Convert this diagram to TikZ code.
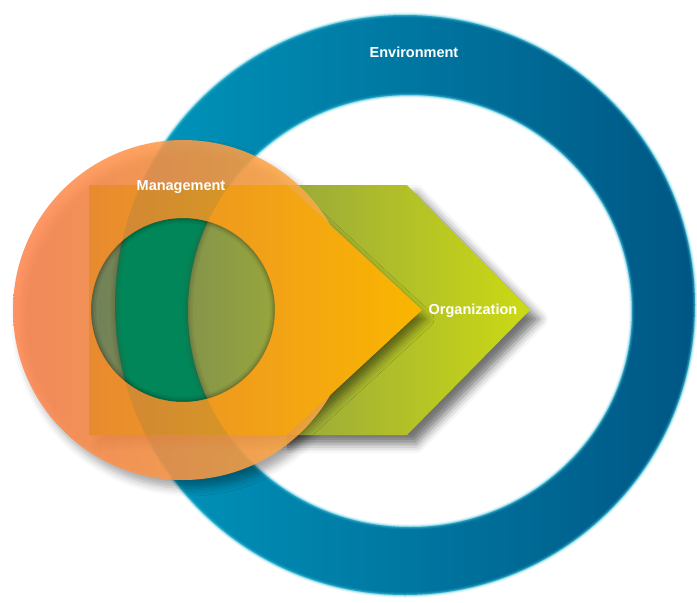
\documentclass[tikz,border=0pt]{standalone}
\usepackage{fontspec}
\setmainfont{Liberation Sans}
\usetikzlibrary{shadows.blur}
\definecolor{ringL}{RGB}{0,152,190}
\definecolor{ringR}{RGB}{0,86,132}
\definecolor{ringEdge}{RGB}{70,195,220}
\definecolor{grnL}{RGB}{112,128,90}
\definecolor{grnM}{RGB}{150,174,70}
\definecolor{grnR}{RGB}{204,218,20}
\definecolor{deepgrn}{RGB}{0,134,88}
\definecolor{mgL}{RGB}{255,132,78}
\definecolor{mgR}{RGB}{255,176,64}
\definecolor{chL}{RGB}{232,138,48}
\definecolor{chR}{RGB}{250,182,0}
\tikzset{
  lbl/.style={text=white, font=\bfseries\fontsize{14.5}{17}\selectfont, inner sep=0pt},
}
\begin{document}
\begin{tikzpicture}[x=1pt,y=-1pt]
\useasboundingbox (0,0) rectangle (697,603);
\coordinate (ringc) at (405,305);
\coordinate (holec) at (410,311);
\coordinate (mc) at (183,310);
% Environment ring
\shade[even odd rule, left color=ringL, right color=ringR]
  (ringc) circle[radius=290] (holec) ellipse[x radius=222, y radius=216];
\foreach \w/\o in {5/0.15, 3/0.25, 1.5/0.35}{
  \draw[ringEdge, line width=\w pt, draw opacity=\o] (ringc) circle[radius=290];
  \draw[ringEdge, line width=\w pt, draw opacity=\o] (holec) ellipse[x radius=222, y radius=216];
}
% shadow of management circle
\path[blur shadow={shadow xshift=6pt, shadow yshift=-8pt, shadow blur radius=8pt, shadow opacity=35}]
  (mc) circle[radius=170];
% Organization chevron
\path[blur shadow={shadow xshift=9pt, shadow yshift=-9pt, shadow blur radius=9pt, shadow opacity=55}]
  (89,185) -- (407,185) -- (530,310) -- (407,435) -- (89,435) -- cycle;
\shade[left color=grnL, middle color=grnM, right color=grnR]
  (89,185) -- (407,185) -- (530,310) -- (407,435) -- (89,435) -- cycle;
\begin{scope}
  \clip (89,185) -- (407,185) -- (530,310) -- (407,435) -- (89,435) -- cycle;
  \fill[deepgrn, even odd rule]
    (ringc) circle[radius=290] (holec) ellipse[x radius=222, y radius=216];
  \foreach \w/\o in {10/0.08, 6/0.1, 3/0.12}{
    \draw[black!60!olive, line width=\w pt, draw opacity=\o] (ringc) circle[radius=290];
    \draw[black!60!olive, line width=\w pt, draw opacity=\o] (holec) ellipse[x radius=222, y radius=216];
  }
\end{scope}
% shadow of orange chevron on the green one
\begin{scope}
  \clip (287,150) rectangle (560,470);
  \path[blur shadow={shadow xshift=3pt, shadow yshift=-9pt, shadow blur radius=9pt, shadow opacity=50}]
    (89,185) -- (287,185) -- (422,310) -- (287,435) -- (89,435) -- cycle;
\end{scope}
% Management circle (ring)
\shade[even odd rule, left color=mgL, right color=mgR, fill opacity=0.86]
  (mc) circle[radius=170] (mc) circle[radius=92];
% Management chevron
\shade[even odd rule, left color=chL, right color=chR]
  (89,185) -- (287,185) -- (422,310) -- (287,435) -- (89,435) -- cycle
  (mc) circle[radius=92];
% faint trace of the ring through the chevron
\begin{scope}[even odd rule]
  \clip (89,185) -- (287,185) -- (422,310) -- (287,435) -- (89,435) -- cycle
    (mc) circle[radius=92];
  \fill[ringR, fill opacity=0.1]
    (ringc) circle[radius=290] (holec) ellipse[x radius=222, y radius=216];
\end{scope}
% inner rim shade of hole
\begin{scope}
  \clip (mc) circle[radius=92];
  \foreach \w/\o in {10/0.06, 6/0.08, 3/0.1}{
    \draw[black, line width=\w pt, draw opacity=\o] (mc) circle[radius=92];
  }
\end{scope}
% labels
\node[lbl] (env) at (414,52) {Environment};
\node[lbl] (mgmt) at (181,187) {Management};
\node[lbl] (org) at (473,311) {Organization};
\end{tikzpicture}
\end{document}
